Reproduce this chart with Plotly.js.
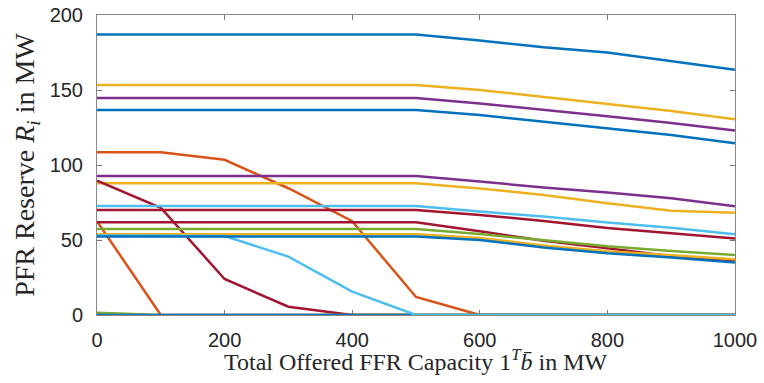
<!DOCTYPE html>
<html>
<head>
<meta charset="utf-8">
<script src="https://cdn.plot.ly/plotly-3.0.1.min.js"></script>
<style>html,body{margin:0;padding:0;background:#fff;}#chart{width:764px;height:383px;}</style>
</head>
<body>
<div id="chart"></div>
<script>
// Total offered FFR capacity (MW)
const capacity = [0, 100, 200, 300, 400, 500, 600, 700, 800, 900, 1000];

// PFR reserve per unit (MW)
const blueA    = [187, 187, 187, 187, 187, 187, 183, 178.5, 175, 169, 163.5];
const yellowA  = [153.4, 153.4, 153.4, 153.4, 153.4, 153.4, 150, 145.5, 140.5, 136, 130.5];
const purpleA  = [144.7, 144.7, 144.7, 144.7, 144.7, 144.7, 141, 137, 132.5, 128, 123];
const blueB    = [136.7, 136.7, 136.7, 136.7, 136.7, 136.7, 133.3, 129, 124.5, 120, 114.5];
const orangeA  = [108.5, 108.5, 103.5, 84.5, 62.5, 12, 0, 0, 0, 0, 0];
const purpleB  = [92.7, 92.7, 92.7, 92.7, 92.7, 92.7, 89, 85, 81.6, 77.8, 72.5];
const yellowB  = [87.8, 87.8, 87.8, 87.8, 87.8, 87.8, 84.4, 80, 74.5, 69.5, 68.2];
const darkredA = [89.6, 71.5, 24, 5.5, 0, 0, 0, 0, 0, 0, 0];
const orangeB  = [62.5, 0, 0, 0, 0, 0, 0, 0, 0, 0, 0];
const greenB   = [1.5, 0, 0, 0, 0, 0, 0, 0, 0, 0, 0];
const darkredC = [61.8, 61.8, 61.8, 61.8, 61.8, 61.8, 55.8, 49.5, 44.5, 39.2, 36.5];
const greenA   = [57.3, 57.3, 57.3, 57.3, 57.3, 57.3, 54, 50, 45.8, 42.7, 40];
const yellowC  = [53.8, 53.8, 53.8, 53.8, 53.8, 53.8, 51.3, 46.3, 42.5, 39.7, 37.2];
const lightA   = [72.7, 72.7, 72.7, 72.7, 72.7, 72.7, 69, 65.6, 61.6, 58.2, 53.8];
const darkredB = [70, 70, 70, 70, 70, 70, 66.7, 62.7, 58, 54.5, 51];
const blueD    = [0, 0, 0, 0, 0, 0, 0, 0, 0, 0, 0];
const lightB   = [53, 53, 52.7, 38.9, 15.6, 0, 0, 0, 0, 0, 0];
const blueC    = [52.4, 52.4, 52.4, 52.4, 52.4, 52.4, 50, 45, 41.2, 38.4, 35];

const xTitle = 'Total Offered FFR Capacity 1<sup><i>T</i></sup><i>b̄</i> in MW';
const yTitle = 'PFR Reserve <i>R<sub>i</sub></i> in MW';

const C = {blue:'#0072BD', orange:'#D95319', yellow:'#EDB120', purple:'#7E2F8E',
           green:'#77AC30', light:'#4DBEEE', darkred:'#A2142F'};

const series = [
  [blueA, C.blue], [yellowA, C.yellow], [purpleA, C.purple], [blueB, C.blue],
  [orangeA, C.orange], [purpleB, C.purple], [yellowB, C.yellow], [darkredA, C.darkred],
  [orangeB, C.orange], [greenB, C.green], [darkredC, C.darkred], [greenA, C.green],
  [yellowC, C.yellow], [lightA, C.light], [darkredB, C.darkred], [blueD, C.blue],
  [lightB, C.light], [blueC, C.blue]
];

const traces = series.map(([y, c]) => ({
  x: capacity, y: y, type: 'scatter', mode: 'lines', cliponaxis: false,
  line: {color: c, width: 2.5}, showlegend: false, hoverinfo: 'skip'
}));

const tickFont = {family: 'Liberation Sans, Arial, sans-serif', size: 20, color: '#262626'};
const serif = 'Liberation Serif, DejaVu Serif, serif';

const layout = {
  width: 764, height: 383,
  margin: {l: 97, r: 29, t: 15, b: 68},
  paper_bgcolor: '#fff', plot_bgcolor: '#fff',
  xaxis: {
    range: [0, 1000], tickvals: [0, 200, 400, 600, 800, 1000],
    ticks: 'inside', ticklen: 5, tickcolor: '#777', tickwidth: 1,
    showline: true, linecolor: '#888', linewidth: 1, mirror: 'ticks',
    showgrid: false, zeroline: false, tickfont: tickFont, ticklabelstandoff: 7,
    layer: 'below traces'
  },
  yaxis: {
    range: [0, 200], tickvals: [0, 50, 100, 150, 200],
    ticks: 'inside', ticklen: 5, tickcolor: '#777', tickwidth: 1,
    showline: true, linecolor: '#888', linewidth: 1, mirror: 'ticks',
    showgrid: false, zeroline: false, tickfont: tickFont, ticklabelstandoff: 9,
    layer: 'below traces',
    title: {text: yTitle, font: {family: serif, size: 28, color: '#262626'}, standoff: 6}
  },
  annotations: [{
    text: xTitle, xref: 'paper', yref: 'paper', x: 0.5, y: -0.15,
    xanchor: 'center', yanchor: 'middle', showarrow: false,
    font: {family: serif, size: 24, color: '#262626'}
  }]
};

Plotly.newPlot('chart', traces, layout, {staticPlot: true, displayModeBar: false});
</script>
</body>
</html>
